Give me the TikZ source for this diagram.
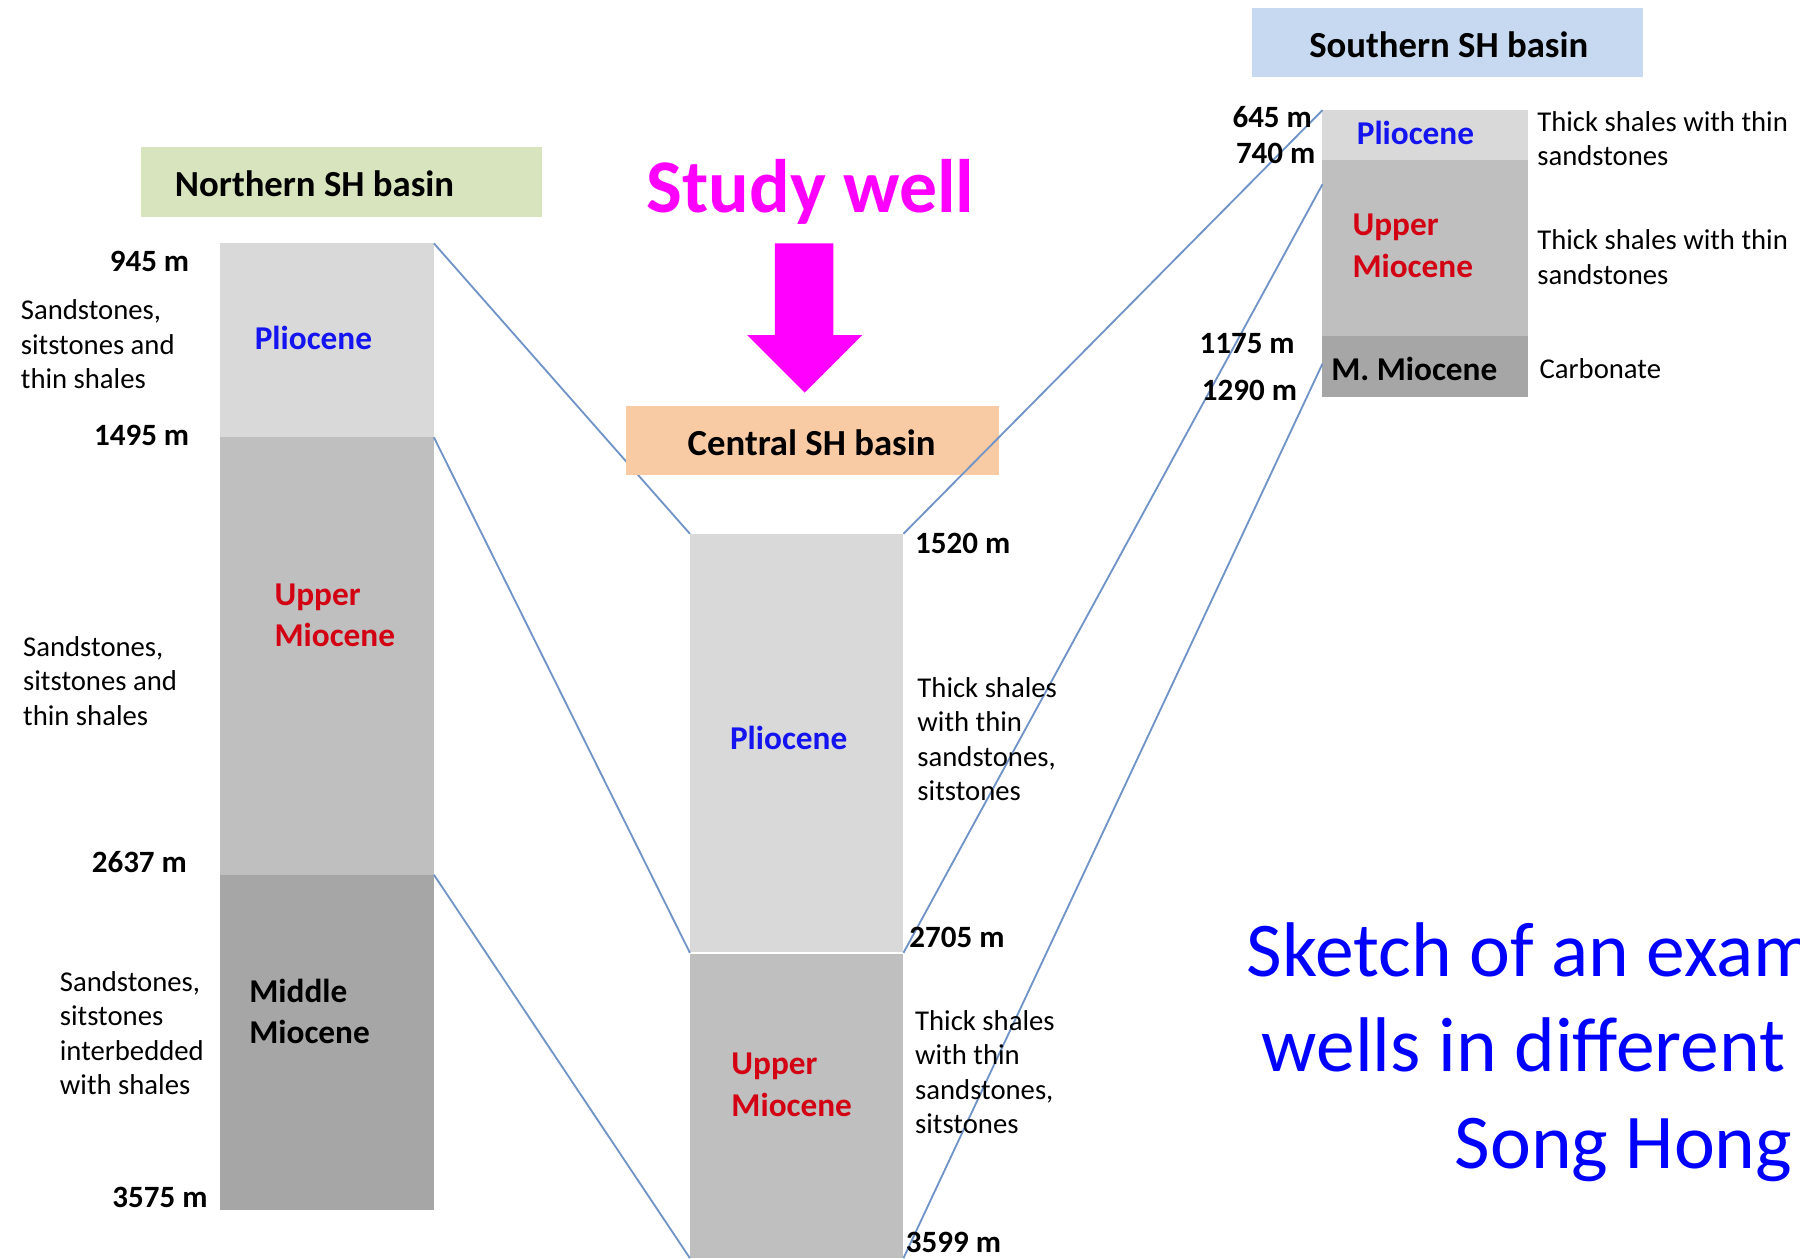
\documentclass[tikz,border=0pt]{standalone}
\usepackage{fontspec}
\setmainfont{Carlito}
\usetikzlibrary{calc}
\definecolor{nbg}{HTML}{D7E4BD}
\definecolor{cbg}{HTML}{F9CBA5}
\definecolor{sbg}{HTML}{C6D9F1}
\definecolor{lyrA}{HTML}{D9D9D9}
\definecolor{lyrB}{HTML}{BFBFBF}
\definecolor{lyrC}{HTML}{A6A6A6}
\definecolor{pliocol}{HTML}{1414F0}
\definecolor{miocol}{HTML}{D20012}
\definecolor{tiecol}{HTML}{7094C8}
\definecolor{magcol}{HTML}{FF00FF}
\definecolor{ttlcol}{HTML}{0000FF}
\begin{document}
\begin{tikzpicture}[x=1pt,y=-1pt,
  lyrbox/.style={rectangle, inner sep=0pt, outer sep=0pt, draw=none},
  hdrbox/.style={rectangle, inner sep=0pt, outer sep=0pt, draw=none},
  hdrtext/.style={inner sep=0pt, font=\fontsize{32}{38}\selectfont\bfseries},
  period/.style={inner sep=0pt, align=left, font=\fontsize{29}{36}\selectfont\bfseries},
  depthlbl/.style={inner sep=0pt, font=\fontsize{27}{32}\selectfont\bfseries},
  desc/.style={inner sep=0pt, align=left, font=\fontsize{25}{30}\selectfont},
  tie/.style={draw=tiecol, line width=1.6pt},
  ttl/.style={inner sep=0pt, anchor=base west, text=ttlcol, font=\fontsize{67.5}{80}\selectfont}
]
\useasboundingbox (0,0) rectangle (1568,1096);
\fill[white] (0,0) rectangle (1568,1096);

% ---- columns (layers)
\node[lyrbox, fill=lyrA, minimum width=186pt, minimum height=169pt] (nplio) at (285,296.5) {};
\node[lyrbox, fill=lyrB, minimum width=186pt, minimum height=381pt] (nupper) at (285,571.5) {};
\node[lyrbox, fill=lyrC, minimum width=186pt, minimum height=292pt] (nmid) at (285,908) {};

\node[lyrbox, fill=lyrA, minimum width=186pt, minimum height=365pt] (cplio) at (694,647.5) {};
\node[lyrbox, fill=lyrB, minimum width=186pt, minimum height=266pt] (cupper) at (694,963) {};
\draw[white, line width=1.5pt] (cplio.south west) -- (cplio.south east);

\node[lyrbox, fill=lyrA, minimum width=179pt, minimum height=43pt] (splio) at (1241.5,117.5) {};
\node[lyrbox, fill=lyrB, minimum width=179pt, minimum height=154pt] (supper) at (1241.5,216) {};
\node[lyrbox, fill=lyrC, minimum width=179pt, minimum height=53pt] (smid) at (1241.5,319.5) {};

% ---- tie lines (behind the header boxes)
\draw[tie] (nplio.north east) -- (cplio.north west);
\draw[tie] (nupper.north east) -- (cupper.north west);
\draw[tie] (nmid.north east) -- (cupper.south west);
\coordinate (sup1) at ($(supper.north west)!0.14!(supper.south west)$);
\coordinate (smid1) at ($(smid.north west)!0.45!(smid.south west)$);
\draw[tie] (cupper.north east) -- (sup1);
\draw[tie] (cupper.south east) -- (smid1);

% ---- header boxes
\node[hdrbox, fill=nbg, minimum width=349pt, minimum height=61pt] (nbox) at (297.5,158.5) {};
\node[hdrtext] (ntitle) at (274,160) {Northern SH basin};
\node[hdrbox, fill=cbg, minimum width=325pt, minimum height=60pt] (cbox) at (707.5,384) {};
\node[hdrtext] (ctitle) at (707,386) {Central SH basin};
\node[hdrbox, fill=sbg, minimum width=340pt, minimum height=60pt] (sbox) at (1261,37) {};
\node[hdrtext] (stitle) at (1262,39) {Southern SH basin};

% ---- tie line drawn over the central header box
\draw[tie] (cplio.north east) -- (splio.north west);

% ---- study well arrow
\node[inner sep=0pt, anchor=base, text=magcol, font=\fontsize{66}{80}\selectfont\bfseries] (study) at (706,185) {Study well};
\fill[magcol] (675,212) -- (726,212) -- (726,292) -- (751,292) -- (701,342) -- (651,292) -- (675,292) -- cycle;

% ---- period labels
\node[period, text=pliocol] (npliot) at (273,294) {Pliocene};
\node[period, text=miocol, anchor=west] (nuppert) at (239,536) {Upper\\Miocene};
\node[period, text=black, anchor=west] (nmidt) at (217,881) {Middle\\Miocene};
\node[period, text=pliocol] (cpliot) at (687,643) {Pliocene};
\node[period, text=miocol, anchor=west] (cuppert) at (637,945) {Upper\\Miocene};
\node[period, text=pliocol] (spliot) at (1233,116) {Pliocene};
\node[period, text=miocol, anchor=west] (suppert) at (1178,214) {Upper\\Miocene};
\node[period, text=black] (smidt) at (1232,321) {M. Miocene};

% ---- depth labels
\node[depthlbl, anchor=east] (d945) at (165,228) {945 m};
\node[depthlbl, anchor=east] (d1495) at (165,379) {1495 m};
\node[depthlbl, anchor=east] (d2637) at (163,751) {2637 m};
\node[depthlbl, anchor=east] (d3575) at (181,1043) {3575 m};
\node[depthlbl, anchor=west] (d1520) at (797,473) {1520 m};
\node[depthlbl, anchor=west] (d2705) at (792,817) {2705 m};
\node[depthlbl, anchor=west] (d3599) at (789,1082) {3599 m};
\node[depthlbl, anchor=east] (d645) at (1143,102) {645 m};
\node[depthlbl, anchor=east] (d740) at (1146,134) {740 m};
\node[depthlbl, anchor=east] (d1175) at (1128,299) {1175 m};
\node[depthlbl, anchor=east] (d1290) at (1130,340) {1290 m};

% ---- descriptions
\node[desc, anchor=west] (ndesc1) at (18,300) {Sandstones,\\sitstones and\\thin shales};
\node[desc, anchor=west] (ndesc2) at (20,593) {Sandstones,\\sitstones and\\thin shales};
\node[desc, anchor=west] (ndesc3) at (52,900) {Sandstones,\\sitstones\\interbedded\\with shales};
\node[desc, anchor=west] (cdesc1) at (799,644) {Thick shales\\with thin\\sandstones,\\sitstones};
\node[desc, anchor=west] (cdesc2) at (797,934) {Thick shales\\with thin\\sandstones,\\sitstones};
\node[desc, anchor=west] (sdesc1) at (1339,121) {Thick shales with thin\\sandstones};
\node[desc, anchor=west] (sdesc2) at (1339,224) {Thick shales with thin\\sandstones};
\node[desc, anchor=west] (sdesc3) at (1341,321) {Carbonate};

% ---- title (clipped at the right edge)
\node[ttl] (title1) at (1086,851) {Sketch of an exam};
\node[ttl] (title2) at (1099,933) {wells in different};
\node[ttl] (title3) at (1267,1018) {Song Hong};
\end{tikzpicture}
\end{document}
